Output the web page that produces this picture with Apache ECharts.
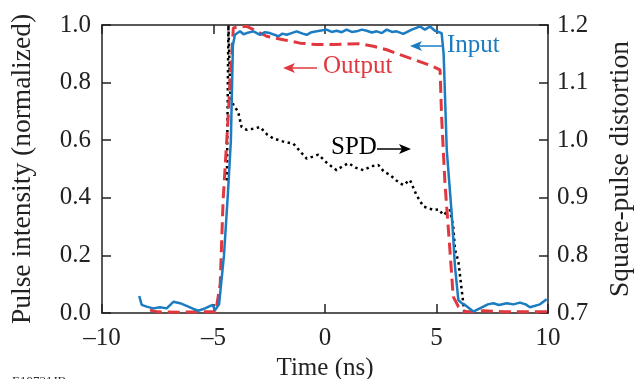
<!DOCTYPE html>
<html>
<head>
<meta charset="utf-8">
<script src="https://cdn.jsdelivr.net/npm/echarts@6/dist/echarts.min.js"></script>
<style>
  html, body { margin: 0; padding: 0; background: #fff; }
  #main { width: 636px; height: 379px; }
</style>
</head>
<body>
<div id="main"></div>
<script>
// time axis ticks (ns)
var timeTicks = [-10, -5, 0, 5, 10];

// input pulse, normalized intensity [t, value]
var inputPulse = [
    [-8.33, 0.059], [-8.22, 0.028], [-8.0, 0.022], [-7.7, 0.016], [-7.4, 0.02],
    [-7.1, 0.016], [-6.8, 0.039], [-6.5, 0.034], [-6.13, 0.022], [-5.9, 0.014],
    [-5.68, 0.008], [-5.38, 0.016], [-5.04, 0.028], [-4.93, 0.01], [-4.75, 0.03],
    [-4.53, 0.2], [-4.35, 0.42], [-4.22, 0.6], [-4.13, 0.93], [-4.04, 0.966],
    [-3.81, 0.978], [-3.65, 0.968], [-3.51, 0.972], [-3.21, 0.978], [-2.91, 0.966],
    [-2.7, 0.975], [-2.47, 0.972], [-2.09, 0.961], [-1.9, 0.97], [-1.72, 0.966],
    [-1.5, 0.972], [-1.27, 0.978], [-1.0, 0.97], [-0.82, 0.966], [-0.6, 0.975],
    [-0.37, 0.978], [0.07, 0.984], [0.3, 0.976], [0.52, 0.98], [0.75, 0.975],
    [0.97, 0.984], [1.2, 0.976], [1.42, 0.978], [1.65, 0.984], [1.87, 0.98],
    [2.1, 0.974], [2.32, 0.978], [2.55, 0.972], [2.77, 0.984], [3.0, 0.976],
    [3.21, 0.978], [3.51, 0.969], [3.89, 0.984], [4.1, 0.99], [4.26, 0.995],
    [4.48, 0.984], [4.71, 0.995], [4.93, 0.98], [5.23, 0.972],
    [5.32, 0.9], [5.46, 0.566], [5.68, 0.347], [5.83, 0.16], [5.98, 0.045],
    [6.13, 0.034], [6.28, 0.028], [6.65, 0.005], [7.1, 0.022], [7.3, 0.03],
    [7.55, 0.034], [7.8, 0.028], [8.15, 0.034], [8.45, 0.03], [8.74, 0.036],
    [9.0, 0.03], [9.19, 0.02], [9.64, 0.03], [9.94, 0.048]
];

// output pulse, normalized intensity [t, value]
var outputPulse = [
    [-7.85, 0.01], [-7.5, 0.004], [-6.5, 0.003], [-5.5, 0.004], [-4.9, 0.004],
    [-4.7, 0.1], [-4.57, 0.39], [-4.35, 0.67], [-4.26, 0.8], [-4.11, 0.99],
    [-3.81, 0.995], [-3.51, 0.995], [-3.21, 0.984], [-2.62, 0.961], [-1.87, 0.949],
    [-1.12, 0.937], [-0.37, 0.932], [0.37, 0.932], [0.97, 0.934], [1.57, 0.935],
    [2.17, 0.926], [2.77, 0.914], [3.36, 0.897], [4.0, 0.88], [4.5, 0.866],
    [4.86, 0.855], [5.16, 0.844], [5.23, 0.68], [5.38, 0.45], [5.6, 0.22],
    [5.75, 0.057], [5.98, 0.022], [6.2, 0.005], [6.6, 0.004], [7.1, 0.008],
    [8.0, 0.004], [9.0, 0.004], [10.0, 0.004]
];

// square-pulse distortion, right axis [t, value]
var spdRatio = [
    [-4.40, 0.93], [-4.33, 1.2], [-4.25, 1.08], [-4.1, 1.06], [-3.9, 1.05],
    [-3.74, 1.023], [-3.51, 1.018], [-3.2, 1.02], [-2.91, 1.023], [-2.6, 1.01],
    [-2.32, 1.003], [-1.9, 0.998], [-1.42, 0.994], [-1.1, 0.98], [-0.82, 0.968],
    [-0.5, 0.972], [-0.3, 0.975], [0.1, 0.96], [0.52, 0.948], [0.8, 0.955],
    [1.05, 0.96], [1.4, 0.952], [1.72, 0.948], [2.1, 0.955], [2.39, 0.957],
    [2.65, 0.945], [2.91, 0.94], [3.2, 0.93], [3.51, 0.922], [3.81, 0.931],
    [4.1, 0.905], [4.41, 0.885], [4.86, 0.879], [5.1, 0.88], [5.3, 0.87],
    [5.6, 0.879], [5.75, 0.85], [5.83, 0.81], [5.98, 0.79], [6.1, 0.75],
    [6.2, 0.717], [6.25, 0.7]
];

var blue = '#1b7cc1';
var red = '#e0383e';
var axisCol = '#222';
var serif = '"Liberation Serif", "Times New Roman", serif';
var fs = 25;
var fsName = 27.5;

// horizontal arrow for the curve labels
function arrow(x1, x2, y, color, headLeft) {
    var hx = headLeft ? x1 : x2;
    var d = headLeft ? 1 : -1;
    return {
        type: 'group',
        children: [
            { type: 'line', shape: { x1: headLeft ? x1 + 6 : x1, y1: y, x2: headLeft ? x2 : x2 - 6, y2: y },
              style: { stroke: color, lineWidth: 1.5 } },
            { type: 'polygon', shape: { points: [[hx, y], [hx + d * 12, y - 5], [hx + d * 9, y], [hx + d * 12, y + 5]] },
              style: { fill: color } }
        ]
    };
}

var myChart = echarts.init(document.getElementById('main'));

var tick = { inside: true, length: 9, lineStyle: { color: axisCol, width: 1.5 } };
var line = { show: true, onZero: false, lineStyle: { color: axisCol, width: 1.5 } };

myChart.setOption({
    animation: false,
    grid: { left: 102, right: 88, top: 25, bottom: 66, outerBoundsMode: 'none' },
    xAxis: [{
        type: 'value',
        min: timeTicks[0],
        max: timeTicks[timeTicks.length - 1],
        interval: 5,
        name: 'Time (ns)',
        nameLocation: 'middle',
        nameGap: 41,
        nameTextStyle: { fontFamily: serif, fontSize: fs, color: axisCol },
        axisLine: line,
        axisTick: tick,
        axisLabel: {
            fontFamily: serif, fontSize: fs, color: axisCol, margin: 13,
            formatter: function (v) { return String(v).replace('-', '\u2013'); }
        },
        splitLine: { show: false }
    }, {
        type: 'value',
        position: 'top',
        min: timeTicks[0],
        max: timeTicks[timeTicks.length - 1],
        interval: 5,
        axisLine: line,
        axisTick: tick,
        axisLabel: { show: false },
        splitLine: { show: false }
    }],
    yAxis: [{
        type: 'value',
        min: 0,
        max: 1,
        interval: 0.2,
        name: 'Pulse intensity (normalized)',
        nameLocation: 'middle',
        nameRotate: 90,
        nameGap: 65,
        nameTextStyle: { fontFamily: serif, fontSize: fsName, color: axisCol },
        axisLine: line,
        axisTick: tick,
        axisLabel: {
            fontFamily: serif, fontSize: fs, color: axisCol, margin: 11,
            formatter: function (v) { return v.toFixed(1); }
        },
        splitLine: { show: false }
    }, {
        type: 'value',
        position: 'right',
        min: 0.7,
        max: 1.2,
        interval: 0.1,
        name: 'Square-pulse distortion',
        nameLocation: 'middle',
        nameRotate: 90,
        nameGap: 59,
        nameTextStyle: { fontFamily: serif, fontSize: fsName, color: axisCol },
        axisLine: line,
        axisTick: tick,
        axisLabel: {
            fontFamily: serif, fontSize: fs, color: axisCol, margin: 9,
            formatter: function (v) { return v.toFixed(1); }
        },
        splitLine: { show: false }
    }],
    series: [{
        name: 'SPD',
        type: 'line',
        yAxisIndex: 1,
        data: spdRatio,
        symbol: 'none',
        lineStyle: { color: '#000', width: 2.5, type: [2.5, 3.5] },
        z: 3
    }, {
        name: 'Output',
        type: 'line',
        data: outputPulse,
        symbol: 'none',
        lineStyle: { color: red, width: 3, type: [12, 6] },
        z: 4
    }, {
        name: 'Input',
        type: 'line',
        data: inputPulse,
        symbol: 'none',
        lineStyle: { color: blue, width: 2.5 },
        z: 5
    }],
    graphic: [
        { type: 'text', left: 447, top: 33, style: { text: 'Input', fill: blue, fontFamily: serif, fontSize: fs } },
        arrow(410, 444, 46, blue, true),
        { type: 'text', left: 323, top: 54, style: { text: 'Output', fill: red, fontFamily: serif, fontSize: fs } },
        arrow(283, 317, 68, red, true),
        { type: 'text', left: 331, top: 135, style: { text: 'SPD', fill: '#000', fontFamily: serif, fontSize: fs } },
        arrow(377, 411, 149, '#000', false),
        { type: 'text', left: 12, top: 375, style: { text: 'E19731JB', fill: '#333', fontFamily: serif, fontSize: 13 } }
    ]
});
</script>
</body>
</html>
